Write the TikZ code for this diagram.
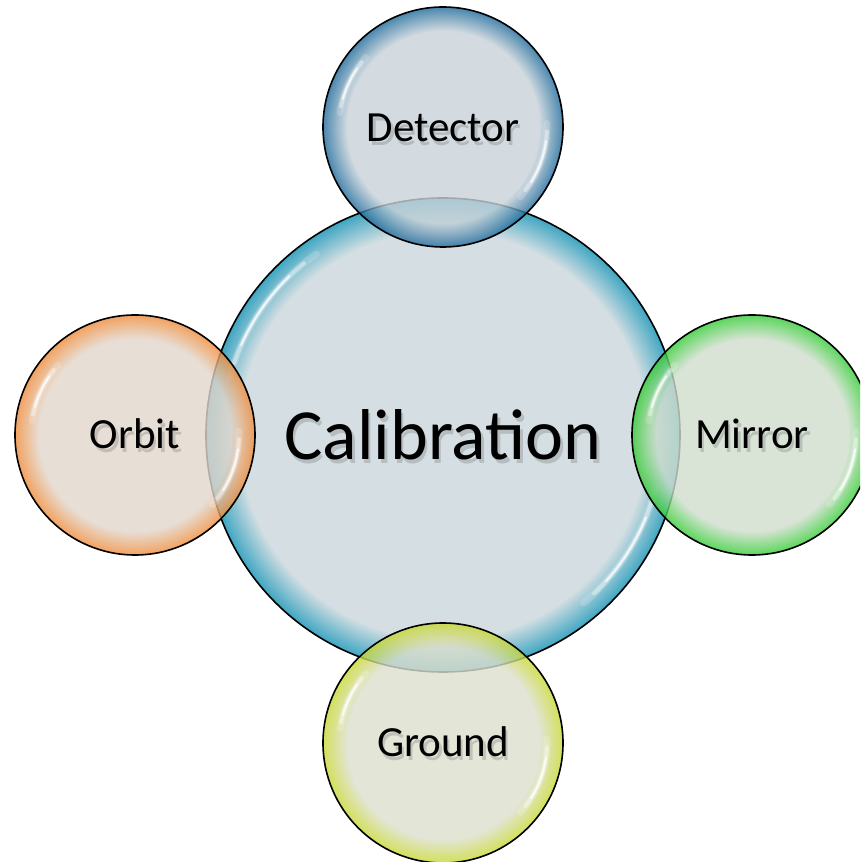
\documentclass[tikz,border=0pt]{standalone}
\usepackage{fontspec}
\setmainfont{Carlito}

% colours of the bubbles (fill centre and rim)
\definecolor{calIn}{HTML}{D5DFE3}  \definecolor{calRim}{HTML}{3FA6C2}
\definecolor{detIn}{HTML}{C8D2D8}  \definecolor{detRim}{HTML}{1D699A}
\definecolor{orbIn}{HTML}{E1D6CC}  \definecolor{orbRim}{HTML}{EF8B39}
\definecolor{mirIn}{HTML}{D0DDCD}  \definecolor{mirRim}{HTML}{33CC33}
\definecolor{grdIn}{HTML}{DCDECD}  \definecolor{grdRim}{HTML}{C7D831}

% flat centre, coloured band towards the rim (25bp = circle radius)
\pgfdeclareradialshading{calShade}{\pgfpoint{0bp}{0bp}}{color(0bp)=(calIn); color(21.5bp)=(calIn); color(25bp)=(calRim); color(50bp)=(calRim)}
\pgfdeclareradialshading{detShade}{\pgfpoint{0bp}{0bp}}{color(0bp)=(detIn); color(20bp)=(detIn); color(25bp)=(detRim); color(50bp)=(detRim)}
\pgfdeclareradialshading{orbShade}{\pgfpoint{0bp}{0bp}}{color(0bp)=(orbIn); color(20bp)=(orbIn); color(25bp)=(orbRim); color(50bp)=(orbRim)}
\pgfdeclareradialshading{mirShade}{\pgfpoint{0bp}{0bp}}{color(0bp)=(mirIn); color(20bp)=(mirIn); color(25bp)=(mirRim); color(50bp)=(mirRim)}
\pgfdeclareradialshading{grdShade}{\pgfpoint{0bp}{0bp}}{color(0bp)=(grdIn); color(20bp)=(grdIn); color(25bp)=(grdRim); color(50bp)=(grdRim)}

\tikzset{
  bubble/.style={circle, shade, draw=black, line width=1.6pt, inner sep=0pt, outer sep=0pt},
  small bubble/.style={bubble, minimum size=240pt, fill opacity=0.8, draw opacity=1},
  label text/.style={anchor=base, inner sep=0pt, text=black},
  label shadow/.style={anchor=base, inner sep=0pt, text=black, text opacity=0.15},
}

% white glossy streak along the inside of a rim: centre, radius, start, end
\newcommand\glint[4]{%
  \pgfmathsetmacro\gm{(#3+#4)/2}%
  \pgfmathsetmacro\gh{(#4-#3)/2}%
  \foreach \f/\w/\o in {1/7/0.18, 0.8/4/0.4, 0.55/2/0.75}{
    \draw[white, line cap=round, line width=\w pt, opacity=\o]
      ([shift={(\gm-\f*\gh:#2)}]#1) arc[start angle=\gm-\f*\gh, end angle=\gm+\f*\gh, radius=#2];
  }}

% label with a faint drop shadow: name, position, font size, text
\newcommand\bubblelabel[4]{%
  \node[label shadow, font=\fontsize{#3}{#3}\selectfont] (#1s) at ([shift={(2.5,-3.5)}]#2) {#4};
  \node[label text, font=\fontsize{#3}{#3}\selectfont] (#1) at (#2) {#4};}

\begin{document}
\begin{tikzpicture}[x=1pt, y=1pt]
\useasboundingbox (0,0) rectangle (860,862);
\clip (0,0) rectangle (860,862);

% central bubble
\node[bubble, shading=calShade, minimum size=474pt] (cal) at (443,427) {};
\glint{cal.center}{221}{125}{165}
\glint{cal.center}{219}{-50}{-14}
\bubblelabel{calLbl}{443,402}{72pt}{Calibration}

% satellites
\node[small bubble, shading=detShade] (det) at (443,735) {};
\glint{det.center}{104}{138}{172}
\glint{det.center}{104}{-42}{2}
\bubblelabel{detLbl}{443,720}{43pt}{Detector}

\node[small bubble, shading=orbShade] (orb) at (135,427) {};
\glint{orb.center}{104}{138}{172}
\glint{orb.center}{104}{-42}{2}
\bubblelabel{orbLbl}{135,413}{43pt}{Orbit}

\node[small bubble, shading=mirShade] (mir) at (752,427) {};
\glint{mir.center}{104}{138}{172}
\glint{mir.center}{104}{-42}{2}
\bubblelabel{mirLbl}{752,413}{43pt}{Mirror}

\node[small bubble, shading=grdShade] (grd) at (443,119) {};
\glint{grd.center}{104}{138}{172}
\glint{grd.center}{104}{-42}{2}
\bubblelabel{grdLbl}{443,105}{43pt}{Ground}
\end{tikzpicture}
\end{document}
